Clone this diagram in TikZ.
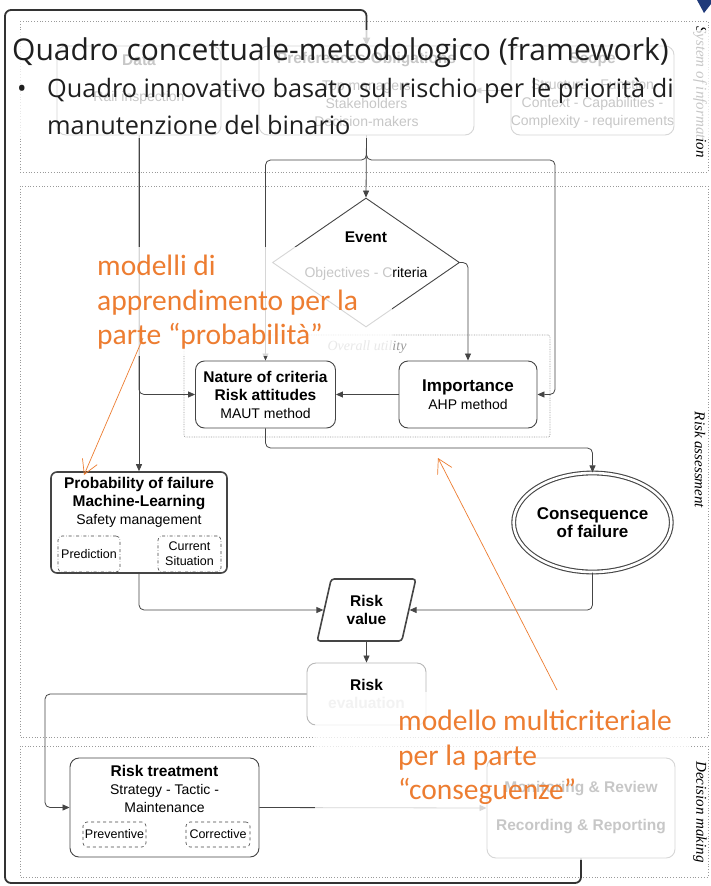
\documentclass[tikz,border=0pt]{standalone}
\usepackage{fontspec}
\setmainfont{Liberation Sans}
\newfontfamily\slidefont{Open Sans}
\newfontfamily\notefont{Carlito}
\newfontfamily\lanefont{Liberation Serif}
\usetikzlibrary{arrows.meta, shapes.geometric}

\definecolor{linegray}{HTML}{454545}
\definecolor{lanegray}{HTML}{9A9A9A}
\definecolor{notecolor}{HTML}{ED7D31}
\definecolor{logoblue}{HTML}{1F3A7A}

\newcommand{\boxhead}[1]{{\fontsize{15.5}{18}\selectfont\bfseries #1}}
\newcommand{\bighead}[1]{{\fontsize{17}{20}\selectfont\bfseries #1}}

\tikzset{
  box/.style={draw=linegray, fill=white, line width=0.9pt, rounded corners=9pt, inner sep=0pt},
  subbox/.style={draw=linegray, dash dot, line width=0.6pt, rounded corners=4pt, inner sep=0pt, align=center, font=\fontsize{12.5}{15}\selectfont},
  txt/.style={align=center, inner sep=0pt, font=\fontsize{14}{18}\selectfont},
  link/.style={draw=linegray, line width=0.8pt, rounded corners=5pt, -{Triangle[length=7pt,width=6pt]}},
  lane/.style={draw=lanegray, dotted, line width=0.8pt},
  lanelabel/.style={rotate=-90, inner sep=0pt, font=\lanefont\itshape\fontsize{15}{18}\selectfont},
  fade/.style={fill=white, fill opacity=0.78},
  note/.style={text=notecolor, align=left, inner sep=0pt, font=\notefont\fontsize{29.5}{34.5}\selectfont},
  notearrow/.style={draw=notecolor, line width=0.7pt, -{Straight Barb[length=14pt,width=16pt]}},
  slide/.style={inner sep=0pt, text=black!88, font=\slidefont\fontsize{25.3}{30}\selectfont}
}

\begin{document}
\begin{tikzpicture}[x=1pt, y=-1pt]
\useasboundingbox[fill=white] (0,0) rectangle (711,886);

% lanes
\draw[lane] (20,21) rectangle (708,172);
\draw[lane] (20,186) rectangle (708,737);
\draw[lane] (20,746) rectangle (708,877);
\node[lanelabel] (infolabel) at (700,92) {System of information};
\node[lanelabel] (risklabel) at (700,460) {Risk assessment};
\node[lanelabel] (decisionlabel) at (700,812) {Decision making};

% system of information
\node[box, minimum width=164, minimum height=89] (data) at (139,90.5) {};
\node[box, minimum width=215, minimum height=89] (pref) at (366.5,90.5) {};
\node[box, minimum width=163, minimum height=89] (scope) at (592.5,90.5) {};
\node[txt] (datatitle) at (139,60) {\boxhead{Data}};
\node[txt] (preftitle) at (366.5,60) {\boxhead{Preferences-Obligations}};
\node[txt] (scopetitle) at (592.5,60) {\boxhead{Scope}};
\node[txt] (datatext) at (139,98) {Rail inspection};
\node[txt] (preftext) at (366.5,104) {Top managers\\Stakeholders\\Decision-makers};
\node[txt] (scopetext) at (592.5,104) {Structure - Function\\Context - Capabilities -\\Complexity - requirements};
\draw[link] (data) -- (pref);
\draw[link] (scope) -- (pref);

% risk assessment
\node[draw=linegray, line width=0.9pt, shape=diamond, minimum width=187, minimum height=129, inner sep=0pt] (event) at (366,262.5) {};
\node[txt] (eventtitle) at (366,237) {\boxhead{Event}};
\node[txt] (eventtext) at (366,274) {Objectives - Criteria};

\node[draw=lanegray, densely dotted, line width=0.7pt, rounded corners=2pt, minimum width=366, minimum height=102, inner sep=0pt] (utility) at (367,386) {};
\node[txt, text=lanegray, font=\lanefont\itshape\fontsize{14}{16}\selectfont] (utilitylabel) at (367,347) {Overall utility};
\node[box, txt, minimum width=140, minimum height=67] (nature) at (265.5,394.5) {\boxhead{Nature of criteria}\\\boxhead{Risk attitudes}\\MAUT method};
\node[box, txt, minimum width=138, minimum height=67] (importance) at (468,394.5) {\bighead{Importance}\\AHP method};

\node[box, line width=1.6pt, rounded corners=6pt, minimum width=176, minimum height=101] (prob) at (139,522.5) {};
\node[txt] (probtext) at (139,502) {\boxhead{Probability of failure}\\\boxhead{Machine-Learning}\\Safety management};
\node[subbox, minimum width=62, minimum height=36] (prediction) at (89,554) {Prediction};
\node[subbox, minimum width=63, minimum height=36] (current) at (189.5,554) {Current\\Situation};

\node[draw=linegray, line width=1.1pt, double, double distance=2.6pt, shape=ellipse, minimum width=137, minimum height=99, txt] (conseq) at (592.5,522.5) {\bighead{Consequence}\\\bighead{of failure}};

\node[draw=linegray, fill=white, line width=1.6pt, shape=trapezium, trapezium left angle=75, trapezium right angle=105, trapezium stretches=true, minimum width=99, minimum height=62, rounded corners=3pt, txt] (riskval) at (366.5,610) {\boxhead{Risk}\\\boxhead{value}};
\node[box, draw=lanegray!70, txt, minimum width=119, minimum height=62] (riskeval) at (366.5,694) {\boxhead{Risk}\\\textcolor{black!22}{\boxhead{evaluation}}};

\coordinate (leftlane) at (300,160);
\coordinate (rightlane) at (555,160);
\coordinate (conseqbend) at (420,448);
\coordinate (evalbend) at (45,694);
\draw[link] (data.south) -- (prob.north);
\draw[link] (data.south) |- (nature.west);
\draw[link] (pref.south) -- (event.north);
\draw[link] (pref.south) |- (leftlane) -| (nature.north);
\draw[link] (pref.south) |- (rightlane) |- (importance.east);
\draw[link] (event.east) -| (importance.north);
\draw[link] (importance.west) -- (nature.east);
\draw[link] (nature.south) |- (conseqbend) -| (conseq.north);
\draw[link] (prob.south) |- (riskval.west);
\draw[link] (conseq.south) |- (riskval.east);
\draw[link] (riskval.south) -- (riskeval.north);

% decision making
\node[box, minimum width=189, minimum height=99] (treat) at (164.5,807.5) {};
\node[txt] (treattext) at (164.5,789) {\boxhead{Risk treatment}\\Strategy - Tactic -\\Maintenance};
\node[subbox, dashed, minimum width=63, minimum height=25] (preventive) at (114.5,834.5) {Preventive};
\node[subbox, dashed, minimum width=64, minimum height=25] (corrective) at (218,834.5) {Corrective};
\node[box, txt, minimum width=188, minimum height=100] (monitor) at (581,808) {\boxhead{Monitoring \& Review}\\[20pt]\boxhead{Recording \& Reporting}};
\draw[link] (riskeval.west) -- (evalbend) |- (treat.west);
\draw[link] (treat.east) -- (monitor.west);

% feedback loop
\coordinate (loopbottom) at (5,883);
\coordinate (looptop) at (5,10);
\draw[draw=black!80, line width=1.8pt, rounded corners=6pt, -{Triangle[length=8pt,width=7pt]}] (monitor.south) |- (loopbottom) -- (looptop) -| (pref.north);

% faded parts of the slide
\fill[fade] (10,30) rectangle (711,138);
\fill[fade] (95,247) rectangle (392,356);
\fill[fade] (315,692) rectangle (690,860);

% notes
\node[note, anchor=north west] (noteprob) at (97,255) {modelli di\\apprendimento per la\\parte “probabilità”};
\node[note, anchor=north west] (noteconseq) at (398,710) {modello multicriteriale\\per la parte\\“conseguenze”};
\coordinate (probtail) at (143,338);
\coordinate (probhead) at (84,475);
\coordinate (conseqtail) at (557,690);
\coordinate (conseqhead) at (438,458);
\draw[notearrow] (probtail) -- (probhead);
\draw[notearrow] (conseqtail) -- (conseqhead);

% slide text
\node[slide, font=\slidefont\fontsize{30}{36}\selectfont, anchor=base west] (title) at (12,60) {Quadro concettuale-metodologico (framework)};
\node[slide, anchor=base west] (bullet) at (17,97) {•};
\node[slide, anchor=base west] (bodyline1) at (47,97) {Quadro innovativo basato sul rischio per le priorità di};
\node[slide, anchor=base west] (bodyline2) at (47,134) {manutenzione del binario};
\fill[logoblue] (697,0) -- (704,13) -- (711,4) -- (711,0) -- cycle;
\end{tikzpicture}
\end{document}
